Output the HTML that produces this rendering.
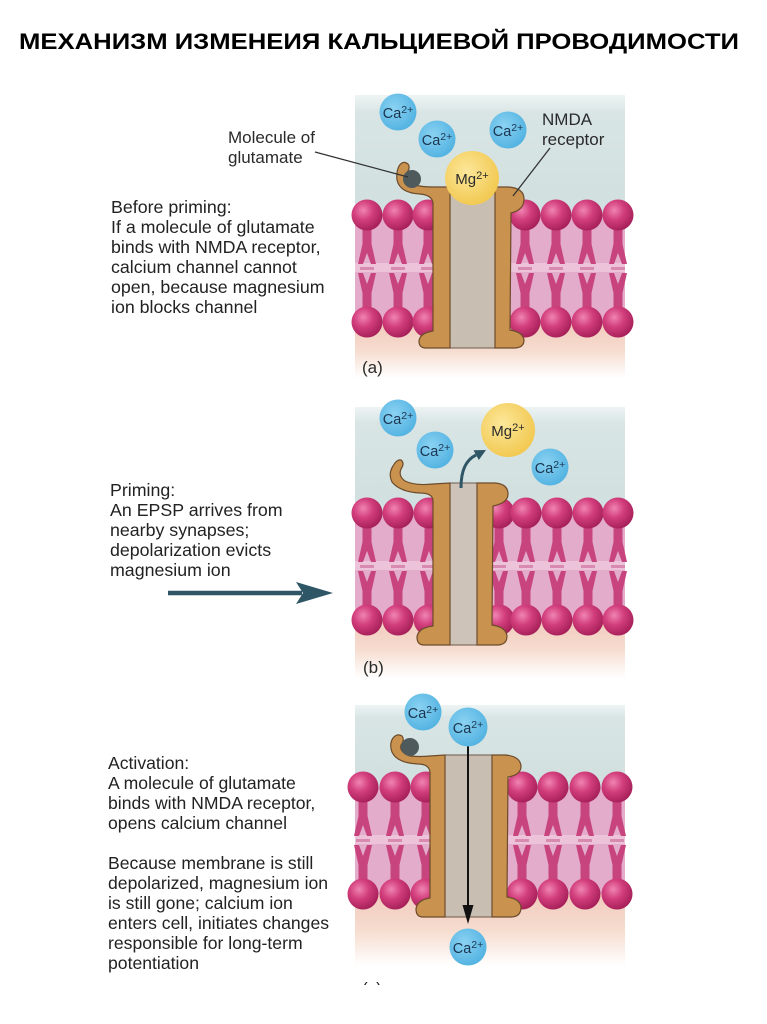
<!DOCTYPE html>
<html><head><meta charset="utf-8"><style>
html,body{margin:0;padding:0;background:#fff;}
svg{display:block;}
</style></head><body>
<svg width="767" height="1024" viewBox="0 0 767 1024" xmlns="http://www.w3.org/2000/svg" font-family="'Liberation Sans', Arial, sans-serif">
<defs>
 <radialGradient id="hd" cx="0.38" cy="0.35" r="0.7">
  <stop offset="0" stop-color="#f084b2"/>
  <stop offset="0.45" stop-color="#d23e7c"/>
  <stop offset="1" stop-color="#a31d57"/>
 </radialGradient>
 <radialGradient id="ca" cx="0.4" cy="0.38" r="0.7">
  <stop offset="0" stop-color="#8ad2f2"/>
  <stop offset="1" stop-color="#4eb0e0"/>
 </radialGradient>
 <radialGradient id="mg" cx="0.4" cy="0.38" r="0.7">
  <stop offset="0" stop-color="#fce79a"/>
  <stop offset="1" stop-color="#f1c64a"/>
 </radialGradient>
 <linearGradient id="blue" x1="0" y1="0" x2="0" y2="1">
  <stop offset="0" stop-color="#eef4f4"/>
  <stop offset="0.15" stop-color="#d8e5e4"/>
  <stop offset="1" stop-color="#d0dfdf"/>
 </linearGradient>
 <linearGradient id="peach" x1="0" y1="0" x2="0" y2="1">
  <stop offset="0" stop-color="#f1cbbd"/>
  <stop offset="0.5" stop-color="#f6dccf"/>
  <stop offset="1" stop-color="#ffffff"/>
 </linearGradient>
 <g id="lip">
  <path d="M-4.5,12 L4.5,12 L4.5,29 L9,49 L4,49 L0,38 L-4,49 L-9,49 L-4.5,29 Z" fill="#c8447e"/>
  <path d="M-4.5,95 L4.5,95 L4.5,78 L9,58 L4,58 L0,69 L-4,58 L-9,58 L-4.5,78 Z" fill="#c8447e"/>
  <rect x="-7" y="52" width="14" height="3" fill="#d88ab0"/>
  <circle cx="0" cy="0" r="15.5" fill="url(#hd)"/>
  <circle cx="0" cy="107" r="15.5" fill="url(#hd)"/>
 </g>
</defs>

<!-- Title -->
<text x="19" y="49" font-size="22.5" font-weight="bold" fill="#000" textLength="720" lengthAdjust="spacingAndGlyphs">МЕХАНИЗМ ИЗМЕНЕИЯ КАЛЬЦИЕВОЙ ПРОВОДИМОСТИ</text>

<!-- ============ PANEL A ============ -->
<rect x="355" y="95" width="270" height="122" fill="url(#blue)"/>
<rect x="355" y="215" width="270" height="108" fill="#e3accb"/>
<rect x="355" y="263" width="270" height="9" fill="#ecc3d8"/>
<rect x="355" y="323" width="270" height="55" fill="url(#peach)"/>

<use href="#lip" x="367" y="215"/>
<use href="#lip" x="398" y="215"/>
<use href="#lip" x="428" y="215"/>
<use href="#lip" x="525" y="215"/>
<use href="#lip" x="556" y="215"/>
<use href="#lip" x="587" y="215"/>
<use href="#lip" x="618" y="215"/>

<rect x="450" y="187" width="45" height="161" fill="#c9beb2" stroke="#6d5b4b" stroke-width="1"/>
<path d="M450,187 L450,348 L426,348 Q419,348 419,341 Q420,333 433,331 L433,203 Q432,195 420,194 Q400,193 397,180 Q396,172 399,166 Q403,160 408,164 Q411,168 406,174 Q404,181 415,185 Q422,187 433,187 Z" fill="#c9934f" stroke="#6d4b2b" stroke-width="1.2"/>
<path d="M495,187 L508,187 Q524,188 524,199 Q524,210 511,213 L510,330 Q523,332 524,340 Q524,348 514,348 L495,348 Z" fill="#c9934f" stroke="#6d4b2b" stroke-width="1.2"/>

<circle cx="412" cy="179" r="9" fill="#4f5a5c"/>
<circle cx="472" cy="178" r="27" fill="url(#mg)"/>
<text x="472" y="184" font-size="15" fill="#2a2a2a" text-anchor="middle">Mg<tspan font-size="11" dy="-5">2+</tspan></text>

<circle cx="398" cy="112" r="18.5" fill="url(#ca)"/>
<text x="398" y="118" font-size="14.5" fill="#1b3550" text-anchor="middle">Ca<tspan font-size="10.5" dy="-5">2+</tspan></text>
<circle cx="437" cy="139" r="18.5" fill="url(#ca)"/>
<text x="437" y="145" font-size="14.5" fill="#1b3550" text-anchor="middle">Ca<tspan font-size="10.5" dy="-5">2+</tspan></text>
<circle cx="508" cy="130" r="18.5" fill="url(#ca)"/>
<text x="508" y="136" font-size="14.5" fill="#1b3550" text-anchor="middle">Ca<tspan font-size="10.5" dy="-5">2+</tspan></text>

<line x1="315" y1="152" x2="408" y2="177" stroke="#333" stroke-width="1.3"/>
<line x1="550" y1="148" x2="513" y2="196" stroke="#333" stroke-width="1.3"/>

<text font-size="17" fill="#2a2a2a">
 <tspan x="228" y="143">Molecule of</tspan>
 <tspan x="228" y="163">glutamate</tspan>
</text>
<text font-size="17" fill="#2a2a2a">
 <tspan x="542" y="125">NMDA</tspan>
 <tspan x="542" y="145">receptor</tspan>
</text>
<text x="362" y="373" font-size="17" fill="#2a2a2a">(a)</text>

<text font-size="17.8" fill="#222">
 <tspan x="111" y="213">Before priming:</tspan>
 <tspan x="111" y="233">If a molecule of glutamate</tspan>
 <tspan x="111" y="253">binds with NMDA receptor,</tspan>
 <tspan x="111" y="273">calcium channel cannot</tspan>
 <tspan x="111" y="293">open, because magnesium</tspan>
 <tspan x="111" y="313">ion blocks channel</tspan>
</text>

<!-- ============ PANEL B ============ -->
<rect x="355" y="407" width="270" height="108" fill="url(#blue)"/>
<rect x="355" y="513" width="270" height="107" fill="#e3accb"/>
<rect x="355" y="561" width="270" height="9" fill="#ecc3d8"/>
<rect x="355" y="620" width="270" height="58" fill="url(#peach)"/>

<use href="#lip" x="367" y="513"/>
<use href="#lip" x="398" y="513"/>
<use href="#lip" x="429" y="513"/>
<use href="#lip" x="499" y="513"/>
<use href="#lip" x="526" y="513"/>
<use href="#lip" x="557" y="513"/>
<use href="#lip" x="588" y="513"/>
<use href="#lip" x="618" y="513"/>

<rect x="450" y="483" width="27" height="162" fill="#cdc3b8" stroke="#6d5b4b" stroke-width="1"/>
<path d="M450,483 L450,645 L424,645 Q417,645 417,637 Q418,628 433,626 L433,500 Q432,493 420,493 Q400,492 392,482 Q388,474 393,466 Q397,459 401,460 Q405,463 401,469 Q398,476 405,481 Q415,486 433,484 Z" fill="#c9934f" stroke="#6d4b2b" stroke-width="1.2"/>
<path d="M477,483 L495,483 Q508,484 508,494 Q508,503 493,506 L492,625 Q506,627 507,636 Q507,645 497,645 L477,645 Z" fill="#c9934f" stroke="#6d4b2b" stroke-width="1.2"/>

<path d="M461,488 C461,470 466,460 476,455" fill="none" stroke="#2f5666" stroke-width="3"/>
<polygon points="486,450 478.8,460 473.5,450.2" fill="#2f5666"/>

<circle cx="398" cy="418" r="18.5" fill="url(#ca)"/>
<text x="398" y="424" font-size="14.5" fill="#1b3550" text-anchor="middle">Ca<tspan font-size="10.5" dy="-5">2+</tspan></text>
<circle cx="435" cy="450" r="18.5" fill="url(#ca)"/>
<text x="435" y="456" font-size="14.5" fill="#1b3550" text-anchor="middle">Ca<tspan font-size="10.5" dy="-5">2+</tspan></text>
<circle cx="508" cy="430" r="27" fill="url(#mg)"/>
<text x="508" y="436" font-size="15" fill="#2a2a2a" text-anchor="middle">Mg<tspan font-size="11" dy="-5">2+</tspan></text>
<circle cx="550" cy="467" r="18.5" fill="url(#ca)"/>
<text x="550" y="473" font-size="14.5" fill="#1b3550" text-anchor="middle">Ca<tspan font-size="10.5" dy="-5">2+</tspan></text>

<text x="363" y="673" font-size="17" fill="#2a2a2a">(b)</text>

<text font-size="17.8" fill="#222">
 <tspan x="110" y="496">Priming:</tspan>
 <tspan x="110" y="516">An EPSP arrives from</tspan>
 <tspan x="110" y="536">nearby synapses;</tspan>
 <tspan x="110" y="556">depolarization evicts</tspan>
 <tspan x="110" y="576">magnesium ion</tspan>
</text>

<line x1="168" y1="593" x2="302" y2="593" stroke="#2f5666" stroke-width="4.5"/>
<polygon points="333,593 296,582 303,593 296,604" fill="#2f5666"/>

<!-- ============ PANEL C ============ -->
<rect x="355" y="705" width="270" height="84" fill="url(#blue)"/>
<rect x="355" y="787" width="270" height="107" fill="#e3accb"/>
<rect x="355" y="835" width="270" height="9" fill="#ecc3d8"/>
<rect x="355" y="894" width="270" height="72" fill="url(#peach)"/>

<use href="#lip" x="363" y="787"/>
<use href="#lip" x="395" y="787"/>
<use href="#lip" x="426" y="787"/>
<use href="#lip" x="522" y="787"/>
<use href="#lip" x="553" y="787"/>
<use href="#lip" x="585" y="787"/>
<use href="#lip" x="617" y="787"/>

<rect x="445" y="755" width="47" height="162" fill="#c9beb2" stroke="#6d5b4b" stroke-width="1"/>
<path d="M445,755 L445,917 L423,917 Q416,917 416,909 Q417,900 430,898 L430,772 Q429,764 418,764 Q397,763 392,752 Q389,744 393,738 Q397,733 402,736 Q405,740 401,745 Q399,752 410,756 Q420,757 430,756 Z" fill="#c9934f" stroke="#6d4b2b" stroke-width="1.2"/>
<path d="M492,755 L505,755 Q520,756 521,766 Q521,775 508,777 L507,897 Q520,899 521,907 Q521,917 511,917 L492,917 Z" fill="#c9934f" stroke="#6d4b2b" stroke-width="1.2"/>

<circle cx="410" cy="747" r="9" fill="#4f5a5c"/>

<line x1="468" y1="745" x2="468" y2="910" stroke="#111" stroke-width="2"/>
<polygon points="468,924 462.5,905 473.5,905" fill="#111"/>

<circle cx="423" cy="712" r="18.5" fill="url(#ca)"/>
<text x="423" y="718" font-size="14.5" fill="#1b3550" text-anchor="middle">Ca<tspan font-size="10.5" dy="-5">2+</tspan></text>
<circle cx="468" cy="727" r="19.5" fill="url(#ca)"/>
<text x="468" y="733" font-size="14.5" fill="#1b3550" text-anchor="middle">Ca<tspan font-size="10.5" dy="-5">2+</tspan></text>
<circle cx="468" cy="947" r="18.5" fill="url(#ca)"/>
<text x="468" y="953" font-size="14.5" fill="#1b3550" text-anchor="middle">Ca<tspan font-size="10.5" dy="-5">2+</tspan></text>

<text x="362" y="994" font-size="17" fill="#2a2a2a">(c)</text>
<rect x="340" y="985" width="80" height="20" fill="#fff"/>

<text font-size="17.6" fill="#222">
 <tspan x="108" y="769">Activation:</tspan>
 <tspan x="108" y="789">A molecule of glutamate</tspan>
 <tspan x="108" y="809">binds with NMDA receptor,</tspan>
 <tspan x="108" y="829">opens calcium channel</tspan>
 <tspan x="108" y="869">Because membrane is still</tspan>
 <tspan x="108" y="889">depolarized, magnesium ion</tspan>
 <tspan x="108" y="909">is still gone; calcium ion</tspan>
 <tspan x="108" y="929">enters cell, initiates changes</tspan>
 <tspan x="108" y="949">responsible for long-term</tspan>
 <tspan x="108" y="969">potentiation</tspan>
</text>
</svg>
</body></html>
